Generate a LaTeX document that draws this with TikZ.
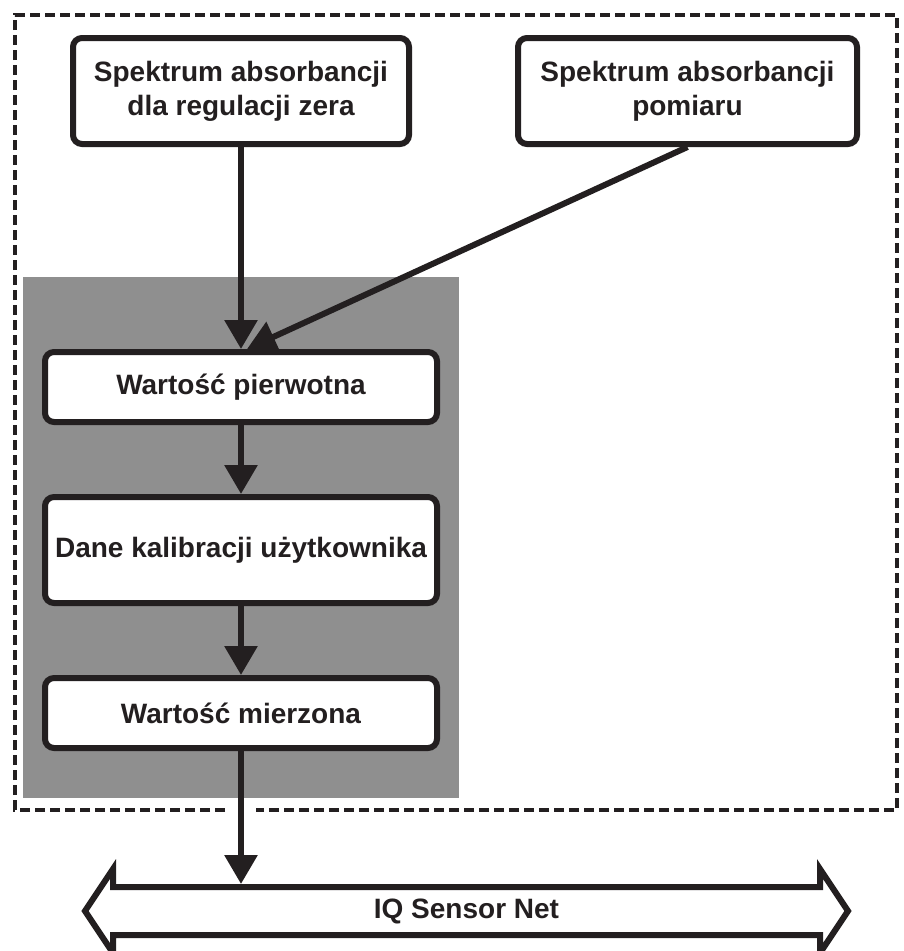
\documentclass[tikz,border=0pt]{standalone}
\usepackage{fontspec}
\setmainfont{Liberation Sans}
\usetikzlibrary{arrows.meta}
\definecolor{ink}{HTML}{231F20}
\definecolor{panel}{HTML}{8F8F8F}
\tikzset{
  box/.style={draw=ink, line width=6pt, rounded corners=9pt, fill=white, text=ink,
    font=\bfseries\fontsize{28}{34}\selectfont, align=center, inner sep=0pt},
  flow/.style={draw=ink, line width=6pt, -{Triangle[length=29pt,width=32pt]}},
  frame/.style={draw=ink, line width=4pt, dash pattern=on 10pt off 5pt},
}
\begin{document}
\begin{tikzpicture}[x=1pt,y=-1pt]
\useasboundingbox (0,0) rectangle (903,951);
% gray panel
\fill[panel] (23,277) rectangle (459,798);
% dashed frame with gap for the output arrow
\draw[frame] (225,810) -- (15,810) -- (15,15) -- (897,15) -- (897,810) -- (256,810);
% boxes
\node[box, minimum width=336pt, minimum height=106pt] (zero) at (241,91) {Spektrum absorbancji\\dla regulacji zera};
\node[box, minimum width=339pt, minimum height=106pt] (meas) at (687.5,91) {Spektrum absorbancji\\pomiaru};
\node[box, minimum width=392pt, minimum height=70pt] (raw) at (241,387) {Wartość pierwotna};
\node[box, minimum width=392pt, minimum height=106pt] (cal) at (241,550) {Dane kalibracji użytkownika};
\node[box, minimum width=392pt, minimum height=70pt] (val) at (241,713) {Wartość mierzona};
% bus
\draw[ink, line width=6pt, line join=miter, fill=white]
  (85,911) -- (113,869) -- (113,887) -- (820,887) -- (820,869) -- (848,911)
  -- (820,953) -- (820,935) -- (113,935) -- (113,953) -- cycle;
\node[text=ink, font=\bfseries\fontsize{28}{32}\selectfont] (bus) at (466.5,911) {IQ Sensor Net};
\coordinate (busTop) at (241,884);
% connectors
\draw[flow] (zero.south) -- (raw.north);
\draw[flow] (meas.south) -- ([xshift=6pt]raw.north);
\draw[flow] (raw.south) -- (cal.north);
\draw[flow] (cal.south) -- (val.north);
\draw[flow] (val.south) -- (busTop);
\end{tikzpicture}
\end{document}
